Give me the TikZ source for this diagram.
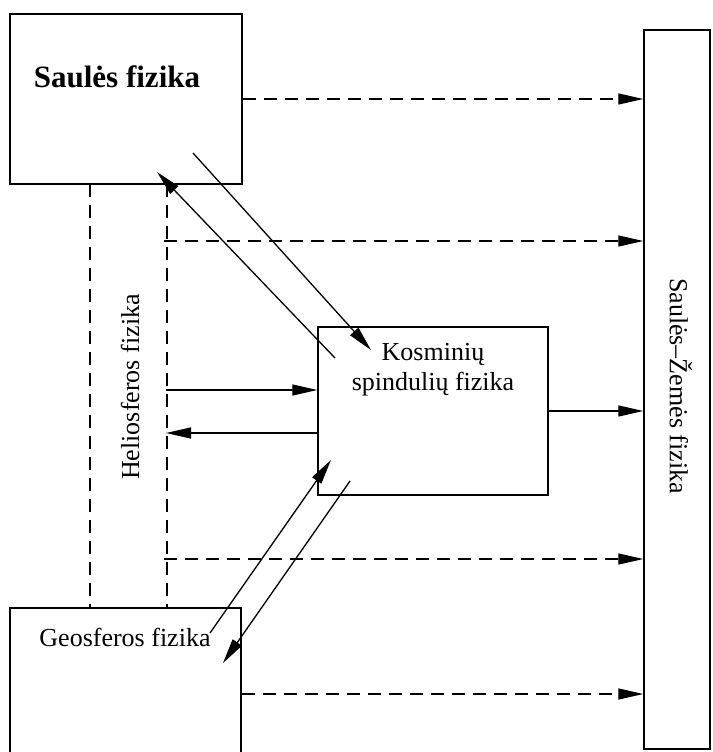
\documentclass[tikz,border=0pt]{standalone}
\usepackage{fontspec}
\setmainfont{Liberation Serif}
\usetikzlibrary{arrows.meta}
\usetikzlibrary{positioning}

\begin{document}
\begin{tikzpicture}[line cap=butt,line join=miter,x=1pt,y=-1pt,
  >={Triangle[length=25pt,width=11pt]},
  box/.style={draw,line width=1.4pt,inner sep=0pt},
  dsh/.style={line width=1.3pt,dash pattern=on 13pt off 8pt},
  sol/.style={line width=1.3pt},
  txt/.style={inner sep=0pt,font=\fontsize{26}{30}\selectfont,align=center}]
\clip (0,0) rectangle (712,752);
% boxes
\node[box,minimum width=232pt,minimum height=170pt] (saule) at (126,99) {};
\node[box,minimum width=230pt,minimum height=168pt] (kosm) at (433,411) {};
\node[box,minimum width=231pt,minimum height=172pt] (geo) at (125.5,694) {};
\node[box,minimum width=66pt,minimum height=719pt] (zeme) at (677,389.5) {};
% texts
\node[txt,font=\fontsize{31}{34}\selectfont\bfseries] (tsaule) at (117,77) {Saulės fizika};
\node[txt] (tkosm) at (433,370) {Kosminių\\spindulių fizika};
\node[txt] (tgeo) at (125,637) {Geosferos fizika};
\node[txt,rotate=90] (thelio) at (130,387) {Heliosferos fizika};
\node[txt,rotate=-90] (tzeme) at (681,386) {Saulės–Žemės fizika};
% heliosfera
\coordinate (la) at (90,184);
\coordinate (lb) at (167,184);
\draw[dsh] (la) -- (la |- geo.north);
\draw[dsh] (lb) -- (lb |- geo.north);
\coordinate (ha) at (164,241);
\coordinate (hb) at (164,559);
\coordinate (hin) at (166,390);
\coordinate (hout) at (166,433);
% into Saules-Zemes fizika
\draw[dsh,->] (saule.east) -- (saule.east -| zeme.west);
\draw[dsh,->] (ha) -- (ha -| zeme.west);
\draw[sol,->] (kosm.east) -- (kosm.east -| zeme.west);
\draw[dsh,->] (hb) -- (hb -| zeme.west);
\draw[dsh,->] (geo.east) -- (geo.east -| zeme.west);
% heliosfera <-> kosminiai
\draw[sol,->] (hin) -- (hin -| kosm.west);
\draw[sol,->] (hout -| kosm.west) -- (hout);
% diagonals
\coordinate (d1a) at (335,358);
\coordinate (d1b) at (157,172);
\coordinate (d2a) at (193,153);
\coordinate (d2b) at (371,350);
\coordinate (d3a) at (210,633);
\coordinate (d3b) at (331,460);
\coordinate (d4a) at (350,481);
\coordinate (d4b) at (223,663);
\draw[sol,->] (d1a) -- (d1b);
\draw[sol,->] (d2a) -- (d2b);
\draw[sol,->] (d3a) -- (d3b);
\draw[sol,->] (d4a) -- (d4b);
\end{tikzpicture}
\end{document}
